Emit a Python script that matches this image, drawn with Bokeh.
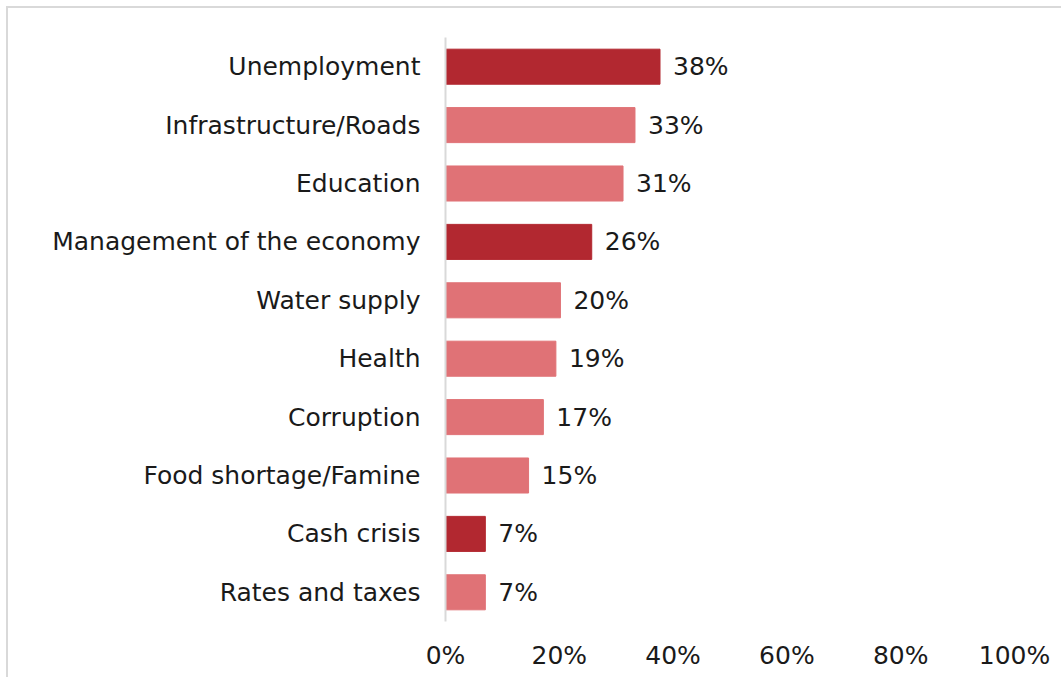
from bokeh.plotting import figure
from bokeh.models import ColumnDataSource, Range1d, FixedTicker, CustomJSTickFormatter
from bokeh.core.properties import value
from bokeh.embed import file_html
from bokeh.resources import INLINE

categories = ["Unemployment", "Infrastructure/Roads", "Education", "Management of the economy",
              "Water supply", "Health", "Corruption", "Food shortage/Famine", "Cash crisis",
              "Rates and taxes"]
values = [37.7, 33.3, 31.2, 25.7, 20.2, 19.4, 17.2, 14.6, 7.0, 7.0]
value_labels = ["38%", "33%", "31%", "26%", "20%", "19%", "17%", "15%", "7%", "7%"]
highlight = [True, False, False, True, False, False, False, False, True, False]
tick_values = [0, 20, 40, 60, 80, 100]

DARK = "#B22830"
LIGHT = "#E07276"
FONT = "DejaVu Sans"
FS = "25px"

colors = [DARK if h else LIGHT for h in highlight]
source = ColumnDataSource(dict(cat=categories, val=values, color=colors, label=value_labels))

p = figure(width=1055, height=671, y_range=list(reversed(categories)), x_range=Range1d(0, 100),
           output_backend="svg", toolbar_location=None,
           min_border_left=437, min_border_right=49, min_border_top=29, min_border_bottom=58)
p.styles = {"border-left": "2px solid #d9d9d9", "border-top": "2px solid #d9d9d9",
            "box-sizing": "border-box", "margin-left": "6px", "margin-top": "6px"}

p.hbar(y="cat", right="val", left=0, height=0.6, color="color", source=source)
p.text(x="val", y="cat", text="label", source=source, x_offset=13,
       text_align="left", text_baseline="middle", text_font=value(FONT),
       text_font_size=FS, text_color="#1a1a1a")

p.outline_line_color = None
p.grid.visible = False
p.background_fill_color = "white"
p.border_fill_color = "white"

xa = p.xaxis[0]
xa.ticker = FixedTicker(ticks=tick_values)
xa.formatter = CustomJSTickFormatter(code="return tick + '%';")
xa.axis_line_color = None
xa.major_tick_line_color = None
xa.minor_tick_line_color = None
xa.major_label_standoff = 13
xa.major_label_text_font = FONT
xa.major_label_text_font_size = FS
xa.major_label_text_color = "#1a1a1a"

ya = p.yaxis[0]
ya.axis_line_color = "#d9d9d9"
ya.axis_line_width = 2
ya.major_tick_line_color = None
ya.minor_tick_line_color = None
ya.major_label_standoff = 19
ya.major_label_text_font = FONT
ya.major_label_text_font_size = FS
ya.major_label_text_color = "#1a1a1a"

open("out.html", "w").write(file_html(p, INLINE))
